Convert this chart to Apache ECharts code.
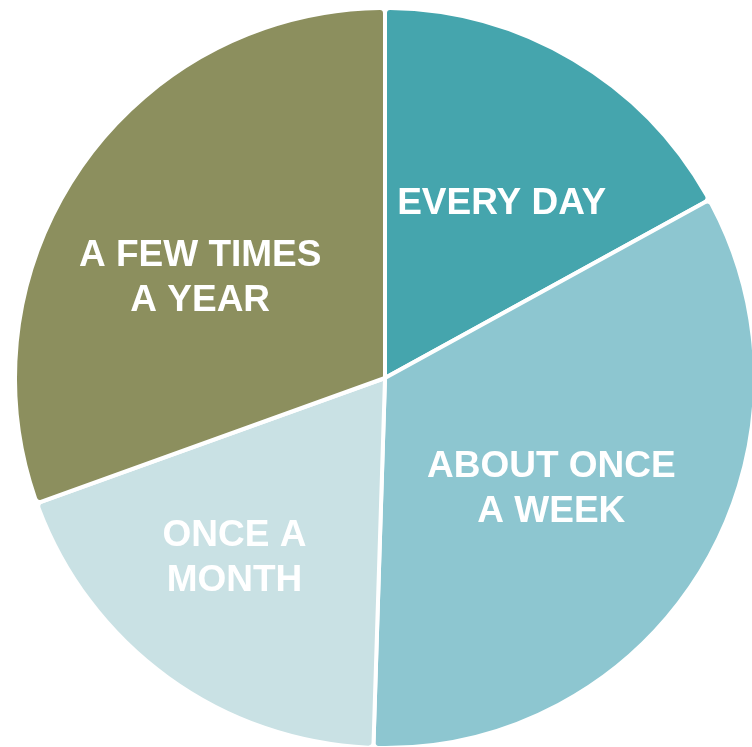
<!DOCTYPE html>
<html>
<head>
<meta charset="utf-8">
<script src="https://cdn.jsdelivr.net/npm/echarts@6/dist/echarts.min.js"></script>
<style>html,body{margin:0;padding:0;background:#fff}#c{width:752px;height:747px}</style>
</head>
<body>
<div id="c"></div>
<script>
const categories = ['EVERY DAY', 'ABOUT ONCE\nA WEEK', 'ONCE A\nMONTH', 'A FEW TIMES\nA YEAR'];
const values = [17, 33.5, 19, 30.5];
const colors = ['#45A5AD', '#8DC6D0', '#C9E1E4', '#8C8F5E'];
const labelNudges = [[21, -12], [6, 13], [-40, 28], [-31, 8]];

const chart = echarts.init(document.getElementById('c'), null, {renderer: 'canvas'});
chart.setOption({
  animation: false,
  series: [{
    type: 'pie',
    center: [385, 378],
    radius: [0, 370],
    startAngle: 90,
    clockwise: true,
    avoidLabelOverlap: false,
    emphasis: {disabled: true},
    itemStyle: {borderColor: '#ffffff', borderWidth: 4, borderRadius: 5},
    label: {
      show: true,
      position: 'inside',
      color: '#ffffff',
      fontFamily: 'Liberation Sans, Arial, sans-serif',
      fontWeight: 'bold',
      fontSize: 37,
      lineHeight: 45,
      align: 'center'
    },
    labelLine: {show: false},
    labelLayout: function (p) {
      const n = labelNudges[p.dataIndex];
      return {dx: n[0], dy: n[1]};
    },
    data: categories.map((c, i) => ({name: c, value: values[i], itemStyle: {color: colors[i]}}))
  }]
});
</script>
</body>
</html>
